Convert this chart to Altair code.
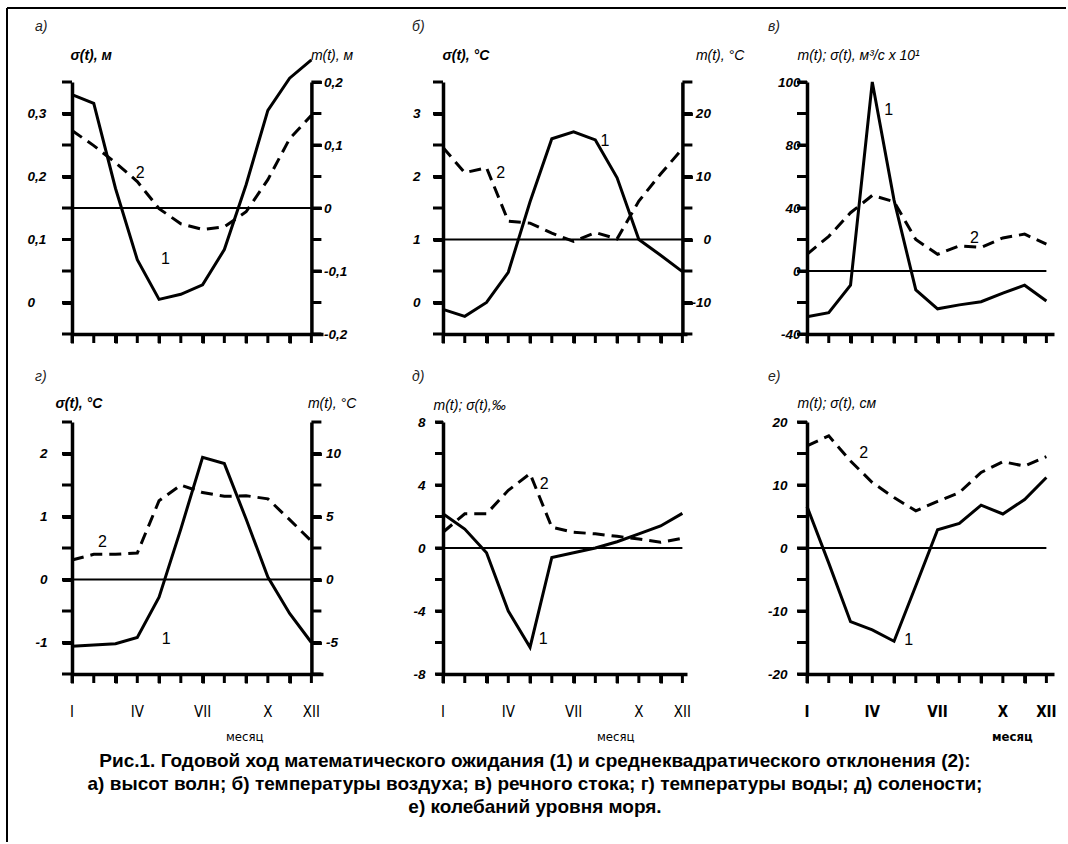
import altair as alt
import pandas as pd

MONTHS = list(range(1, 13))
ROMAN_M = [1, 4, 7, 10, 12]
ROMAN_T = ["I", "IV", "VII", "X", "XII"]

# а) высот волн: m(t), м (1, right axis) and σ(t), м (2, left axis)
A_M = [0.180, 0.166, 0.031, -0.082, -0.145, -0.137, -0.122, -0.066, 0.037, 0.155, 0.206, 0.235]
A_S = [0.273, 0.249, 0.222, 0.192, 0.149, 0.125, 0.116, 0.120, 0.144, 0.195, 0.260, 0.297]
# б) температуры воздуха
B_M = [-11.1, -12.2, -10.0, -5.2, 6.0, 16.0, 17.1, 15.8, 9.8, 0.0, -2.5, -5.1]
B_S = [2.46, 2.06, 2.14, 1.29, 1.26, 1.10, 0.97, 1.11, 1.01, 1.61, 2.04, 2.44]
# в) речного стока
V_M = [-29, -26.5, -9, 100, 45, -12, -24, -21.5, -19.5, -14, -9, -19]
V_S = [10.6, 22, 37, 48, 44, 20, 10.6, 16, 15, 21, 23.4, 17]
# г) температуры воды
G_M = [-5.3, -5.2, -5.1, -4.6, -1.4, 4.0, 9.7, 9.2, 4.8, 0.2, -2.7, -5.0]
G_S = [0.31, 0.40, 0.40, 0.42, 1.25, 1.50, 1.38, 1.32, 1.33, 1.28, 0.95, 0.61]
# д) солености
D_M = [2.17, 1.2, -0.3, -4.0, -6.3, -0.6, -0.3, 0.0, 0.4, 0.9, 1.4, 2.2]
D_S = [1.0, 2.17, 2.17, 3.66, 4.72, 1.32, 1.0, 0.9, 0.74, 0.57, 0.36, 0.62]
# е) колебаний уровня моря
E_M = [6.6, -2.4, -11.7, -13.0, -14.8, -6.0, 2.9, 3.9, 6.8, 5.4, 7.7, 11.2]
E_S = [16.2, 17.8, 13.8, 10.4, 8.0, 5.9, 7.4, 8.8, 12.0, 13.7, 13.0, 14.5]

# axis tick marks (left / right)
A_TL = [-0.05, 0, 0.05, 0.1, 0.15, 0.2, 0.25, 0.3, 0.35]
A_TR = [-0.2, -0.15, -0.1, -0.05, 0, 0.05, 0.1, 0.15, 0.2]
B_TL = [-0.5, 0, 0.5, 1, 1.5, 2, 2.5, 3, 3.5]
B_TR = [-15, -10, -5, 0, 5, 10, 15, 20, 25]
V_T = [-40, -20, 0, 20, 40, 60, 80, 90, 100]
G_TL = [-1.5, -1, -0.5, 0, 0.5, 1, 1.5, 2, 2.5]
G_TR = [-7.5, -5, -2.5, 0, 2.5, 5, 7.5, 10, 12.5]
D_T = [-8, -6, -4, -2, 0, 2, 4, 6, 8]
E_T = [-20, -15, -10, -5, 0, 5, 10, 15, 20]

# curve-number annotations (month, value on the curve's own axis)
A_LAB = [(5.29, -0.081), (4.13, 0.206)]
B_LAB = [(8.44, 15.7), (3.65, 2.05)]
V_LAB = [(4.75, 91), (8.7, 21)]
G_LAB = [(5.33, -4.7), (2.4, 0.6)]
D_LAB = [(5.6, -5.8), (5.65, 4.06)]
E_LAB = [(5.67, -14.6), (3.6, 15.1)]

CAPTION = [
    "Рис.1. Годовой ход математического ожидания (1) и среднеквадратического отклонения (2):",
    "а) высот волн; б) температуры воздуха; в) речного стока; г) температуры воды; д) солености;",
    "е) колебаний уровня моря.",
]

H = 252
PPM = 247 / 11.35           # pixels per month
COL_W = [251, 244, 247]     # plot widths of the three columns
XR = round(11 * PPM, 1)     # x of month XII (right axis position)


def xdom(w):
    return [1, round(1 + w / PPM, 4)]


def roff(w):
    return round(XR - w, 1)


FONT = "Liberation Sans, Arial, Helvetica, sans-serif"
NARROW = "Liberation Sans Narrow, Arial Narrow, DejaVu Sans Condensed, Liberation Sans, sans-serif"
DASH = [12, 7]


def lab_expr(mapping):
    expr = "''"
    for v, t in reversed(list(mapping.items())):
        expr = f"datum.value == {v} ? '{t}' : {expr}"
    return expr


def label_values(ticks, mapping):
    first = min(i for i, t in enumerate(ticks) if t in mapping)
    return ticks[first:]


def yscale(dom, rng=None):
    kw = dict(domain=dom, nice=False, zero=False)
    if rng is not None:
        kw["range"] = rng
    return alt.Scale(**kw)


def xs(w):
    return alt.Scale(domain=xdom(w), nice=False, zero=False)


def x_main(w):
    kw = dict(values=MONTHS, ticks=True, tickSize=9, tickWidth=3, tickColor="black",
              tickOpacity=1, domainWidth=3.5, domainColor="black", grid=False, labels=False)
    return alt.X("month:Q", scale=xs(w), axis=alt.Axis(**kw), title=None)


def y_axis(orient, ticks, labels, align, pad, title, tx, ty, tstyle="italic",
           tweight="bold", offset=None, tick=10):
    kw = dict(orient=orient, values=label_values(ticks, labels), labelExpr=lab_expr(labels),
              labelAlign=align, labelPadding=pad, labelBaseline="middle", labelFont=FONT,
              labelFontSize=13.5, labelFontWeight="bold", labelFontStyle="italic",
              labelColor="black", labelFlush=False, labelOverlap=False, ticks=True,
              tickSize=tick, tickWidth=3, tickColor="black", tickOpacity=1,
              domainWidth=3.5, domainColor="black", grid=False, title=title, titleX=tx,
              titleY=ty, titleAngle=0, titleAlign="left", titleBaseline="middle",
              titleFont=FONT, titleFontSize=14, titleFontWeight=tweight,
              titleFontStyle=tstyle, titleColor="black")
    if offset is not None:
        kw["offset"] = offset
    return alt.Axis(**kw)


def curve(vals, ys, dashed, xe, axis=None):
    df = pd.DataFrame({"month": MONTHS, "v": vals})
    if dashed:
        mk = alt.Chart(df).mark_line(color="black", strokeWidth=3, strokeDash=DASH)
    else:
        mk = alt.Chart(df).mark_line(color="black", strokeWidth=3)
    if axis is None:
        y = alt.Y("v:Q", scale=ys)
    else:
        y = alt.Y("v:Q", scale=ys, axis=axis)
    return mk.encode(x=xe, y=y)


def note(txt, pos, ys, w):
    df = pd.DataFrame({"month": [pos[0]], "v": [pos[1]], "t": [txt]})
    return alt.Chart(df).mark_text(font=FONT, fontSize=16, color="black").encode(
        x=alt.X("month:Q", scale=xs(w)), y=alt.Y("v:Q", scale=ys), text="t:N")


def zero_rule(ys, w):
    df = pd.DataFrame({"x0": [1], "x1": [12], "v": [0]})
    return alt.Chart(df).mark_rule(color="black", strokeWidth=2).encode(
        x=alt.X("x0:Q", scale=xs(w)), x2="x1:Q", y=alt.Y("v:Q", scale=ys))


def yticks(vals, ys, xc, length):
    # short horizontal tick marks next to a y axis, placed through the y scale
    df = pd.DataFrame({"v": vals})
    return alt.Chart(df).mark_tick(color="black", thickness=3, size=length, opacity=1,
                                   orient="horizontal").encode(
        y=alt.Y("v:Q", scale=ys), x=alt.value(xc))


def xticks(w):
    df = pd.DataFrame({"month": MONTHS})
    return alt.Chart(df).mark_tick(color="black", thickness=3, size=9, opacity=1,
                                   orient="vertical").encode(
        x=alt.X("month:Q", scale=xs(w)), y=alt.value(H + 4.5))


def month_labels(w, bold, title_dx):
    df = pd.DataFrame({"month": ROMAN_M, "t": ROMAN_T})
    lab = alt.Chart(df).mark_text(font=NARROW, fontSize=15, color="black", baseline="middle",
                                  fontWeight="bold" if bold else "normal").encode(
        x=alt.X("month:Q", scale=xs(w)), y=alt.value(H + 38), text="t:N")
    tdf = pd.DataFrame({"t": ["месяц"]})
    ttl = alt.Chart(tdf).mark_text(font=NARROW, fontSize=13, color="black", align="left",
                                   baseline="middle",
                                   fontWeight="bold" if bold else "normal").encode(
        x=alt.value(title_dx), y=alt.value(H + 63), text="t:N")
    return [lab, ttl]


def letter(txt, dx, dy):
    df = pd.DataFrame({"t": [txt]})
    return alt.Chart(df).mark_text(font=FONT, fontSize=14, fontStyle="italic", align="left",
                                   baseline="middle", color="#222").encode(
        x=alt.value(dx), y=alt.value(dy), text="t:N")


def frame():
    df = pd.DataFrame({"k": [0]})
    left = alt.Chart(df).mark_rule(color="black", strokeWidth=2).encode(
        x=alt.value(-65), y=alt.value(-74), y2=alt.value(760))
    top = alt.Chart(df).mark_rule(color="black", strokeWidth=2).encode(
        x=alt.value(-65), x2=alt.value(994), y=alt.value(-74))
    return [left, top]


def caption():
    df = pd.DataFrame({"t": ["\n".join(CAPTION)]})
    return alt.Chart(df).mark_text(font=FONT, fontSize=19, fontWeight="bold", align="center",
                                   baseline="middle", lineBreak="\n", lineHeight=23,
                                   color="black").encode(
        x=alt.value(92), y=alt.value(339), text="t:N")


def dual(w, m_vals, s_vals, s_scale, s_axis, s_ticks, m_scale, m_axis, m_ticks, labs, extras):
    left = alt.layer(curve(s_vals, s_scale, True, x_main(w), s_axis),
                     yticks(s_ticks, s_scale, -5, 10), xticks(w),
                     note("2", labs[1], s_scale, w), *extras)
    right = alt.layer(zero_rule(m_scale, w),
                      curve(m_vals, m_scale, False, alt.X("month:Q", scale=xs(w)), m_axis),
                      yticks(m_ticks, m_scale, XR + 5, 10),
                      note("1", labs[0], m_scale, w))
    return alt.layer(left, right).resolve_scale(y="independent").properties(width=w, height=H)


def single(w, m_vals, s_vals, ys, axis, ticks, labs, extras, tick=10):
    return alt.layer(curve(m_vals, ys, False, x_main(w), axis), zero_rule(ys, w),
                     curve(s_vals, ys, True, alt.X("month:Q", scale=xs(w))),
                     yticks(ticks, ys, -tick / 2, tick), xticks(w),
                     note("1", labs[0], ys, w), note("2", labs[1], ys, w), *extras
                     ).properties(width=w, height=H)


W1, W2, W3 = COL_W

# ---- а)
pa = dual(W1, A_M, A_S,
          yscale([-0.05, 0.35]),
          y_axis("left", A_TL, {0: "0", 0.1: "0,1", 0.2: "0,2", 0.3: "0,3"}, "left", 35,
                 "σ(t), м", -2, -27), A_TL,
          yscale([-0.2, 0.2]),
          y_axis("right", A_TR, {-0.2: "-0,2", -0.1: "-0,1", 0: "0", 0.1: "0,1", 0.2: "0,2"},
                 "left", 2, "m(t), м", -1, -27, tweight="normal", offset=roff(W1)), A_TR,
          A_LAB, [letter("а)", -37, -55)] + frame())

# ---- б)
pb = dual(W2, B_M, B_S,
          yscale([-0.5, 3.5]),
          y_axis("left", B_TL, {0: "0", 1: "1", 2: "2", 3: "3"}, "right", 13,
                 "σ(t), °C", -1, -27), B_TL,
          yscale([-15, 25]),
          y_axis("right", B_TR, {-10: "-10", 0: "0", 10: "10", 20: "20"}, "right", 18,
                 "m(t), °C", 13, -27, tweight="normal", offset=roff(W2)), B_TR,
          B_LAB, [letter("б)", -31, -55)])

# ---- в)
pv = single(W3, V_M, V_S, yscale([-40, 80, 100], [H, H / 4, 0]),
            y_axis("left", V_T, {-40: "-40", 0: "0", 40: "40", 80: "80", 100: "100"},
                   "right", -3, "m(t); σ(t), м³/с x 10¹", -10, -27, tweight="normal"),
            V_T, V_LAB, [letter("в)", -39, -55)])

# ---- г)
pg = dual(W1, G_M, G_S,
          yscale([-1.5, 2.5]),
          y_axis("left", G_TL, {-1: "-1", 0: "0", 1: "1", 2: "2"}, "right", 15,
                 "σ(t), °C", -17, -19), G_TL,
          yscale([-7.5, 12.5]),
          y_axis("right", G_TR, {-5: "-5", 0: "0", 5: "5", 10: "10"}, "left", 4,
                 "m(t), °C", -4, -19, tweight="normal", offset=roff(W1)), G_TR,
          G_LAB, [letter("г)", -37, -45)] + month_labels(W1, False, 154))

# ---- д)
pd_ = single(W2, D_M, D_S, yscale([-8, 8]),
             y_axis("left", D_T, {-8: "-8", -4: "-4", 0: "0", 4: "4", 8: "8"}, "right", 10,
                    "m(t); σ(t),‰", -10, -17, tweight="normal", tick=8),
             D_T, D_LAB, [letter("д)", -31, -45), caption()] + month_labels(W2, False, 154),
             tick=8)

# ---- е)
pe = single(W3, E_M, E_S, yscale([-20, 20]),
            y_axis("left", E_T, {-20: "-20", -10: "-10", 0: "0", 10: "10", 20: "20"},
                   "right", 10, "m(t); σ(t), см", -10, -19, tweight="normal"),
            E_T, E_LAB, [letter("е)", -39, -45)] + month_labels(W3, True, 185))

chart = alt.concat(pa, pb, pv, pg, pd_, pe, columns=3,
                   spacing={"row": 88, "column": 120}, bounds="flush").properties(
    padding={"left": 6, "top": 7, "right": 0, "bottom": 0},
    background="white",
).configure_view(strokeOpacity=0).configure_axis(
    ticks=True, tickColor="black", tickWidth=3, tickOpacity=1,
    labelOverlap=False, labelFlush=False, grid=False, domainColor="black",
)

chart.save("out.html", embed_options={"renderer": "svg", "actions": False})
